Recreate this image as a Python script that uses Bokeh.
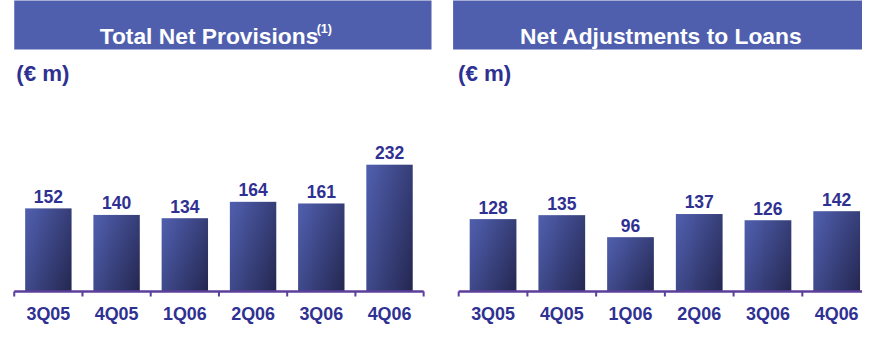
import numpy as np
from bokeh.plotting import figure
from bokeh.layouts import row
from bokeh.models import Range1d, BoxAnnotation, Label
from bokeh.core.properties import value
from bokeh.embed import file_html
from bokeh.resources import INLINE

# ---- data ----
quarters = ["3Q05", "4Q05", "1Q06", "2Q06", "3Q06", "4Q06"]
total_net_provisions = [152, 140, 134, 164, 161, 232]
net_adjustments_loans = [128, 135, 96, 137, 126, 142]
title_left = "Total Net Provisions"
title_left_note = "(1)"
title_right = "Net Adjustments to Loans"
unit_text = "(€ m)"

# ---- layout / style ----
TOTAL_W, TOTAL_H = 862, 328          # fits the 878x344 window with 8px margins
SX, SY = TOTAL_W / 878.0, 320.0 / 344.0
FS = 0.97                             # font scale
FONT = "Liberation Sans"
HEADER_COLOR = "#4f5fae"
TEXT_BLUE = "#2f3192"
AXIS_COLOR = "#5b3f9b"
TOP_LEFT = np.array([80, 95, 174], dtype=float)
BOTTOM_RIGHT = np.array([36, 39, 80], dtype=float)
BASE_PX = 312.7 * SY                  # axis baseline from top of figure


def fpx(size):
    return f"{size * FS:.1f}px"


def gradient_image(rows=160, cols=48):
    fy = np.linspace(1.0, 0.0, rows)[:, None]   # row 0 is bottom
    fx = np.linspace(0.0, 1.0, cols)[None, :]
    t = np.clip(0.6 * fx + 0.4 * fy, 0, 1) ** 1.1
    img = np.empty((rows, cols), dtype=np.uint32)
    view = img.view(dtype=np.uint8).reshape((rows, cols, 4))
    for k in range(3):
        view[:, :, k] = (TOP_LEFT[k] + (BOTTOM_RIGHT[k] - TOP_LEFT[k]) * t).astype(np.uint8)
    view[:, :, 3] = 255
    return img


GRAD = gradient_image()


def panel(width, x0_px, cat_w, ppu, values, title, note, header_l, header_r,
          title_x, title_align, note_x, unit_x):
    # all px arguments are in the panel's local pixel space (already scaled)
    def dx(px):
        return (px - x0_px) / cat_w

    def dy(py):
        return (BASE_PX - py) / ppu

    p = figure(width=width, height=TOTAL_H, output_backend="svg", toolbar_location=None,
               x_axis_type=None, y_axis_type=None,
               x_range=Range1d(dx(0), dx(width)), y_range=Range1d(dy(TOTAL_H), dy(0)),
               min_border=0, outline_line_color=None, background_fill_color="white",
               border_fill_color="white")
    p.grid.visible = False

    n = len(values)
    centers = [i + 0.5 for i in range(n)]
    bw = 0.68
    p.image_rgba(image=[GRAD] * n, x=[c - bw / 2 for c in centers], y=[0] * n,
                 dw=[bw] * n, dh=values)

    # axis line and boundary ticks
    p.segment(x0=[0], y0=[0], x1=[n], y1=[0], line_color=AXIS_COLOR, line_width=2.5)
    bounds = list(range(n + 1))
    p.segment(x0=bounds, y0=[0] * (n + 1), x1=bounds, y1=[-5.5 * SY / ppu] * (n + 1),
              line_color=AXIS_COLOR, line_width=2)

    # value labels
    p.text(x=centers, y=values, text=[str(v) for v in values], text_align="center",
           text_baseline="alphabetic", y_offset=-13 * SY,
           text_font=value(FONT), text_font_style="bold", text_font_size=fpx(18),
           text_color=TEXT_BLUE)
    # category labels
    p.text(x=centers, y=[0] * n, text=quarters, text_align="center",
           text_baseline="alphabetic", y_offset=23.0,
           text_font=value(FONT), text_font_style="bold", text_font_size=fpx(18.5),
           text_color=TEXT_BLUE)

    # header band
    p.add_layout(BoxAnnotation(left=dx(header_l), right=dx(header_r), top=dy(-2),
                               bottom=dy(52.7 * SY),
                               fill_color=HEADER_COLOR, fill_alpha=1.0, line_color=None))
    p.add_layout(Label(x=dx(title_x), y=dy(38.3 * SY), text=title, text_align=title_align,
                       text_baseline="alphabetic", text_font=FONT, text_font_style="bold",
                       text_font_size=fpx(23.5), text_color="white"))
    if note:
        p.add_layout(Label(x=dx(note_x), y=dy(30.6 * SY), text=note, text_align="left",
                           text_baseline="alphabetic", text_font=FONT, text_font_style="bold",
                           text_font_size=fpx(13), text_color="white"))
    p.add_layout(Label(x=dx(unit_x), y=dy(78.5 * SY), text=unit_text, text_align="left",
                       text_baseline="alphabetic", text_font=FONT, text_font_style="bold",
                       text_font_size=fpx(23), text_color=TEXT_BLUE))
    return p


LEFT_W = round(450 * SX)
RIGHT_W = TOTAL_W - LEFT_W
RIGHT_ORIGIN = LEFT_W / SX   # reference x where the right panel starts

left = panel(LEFT_W, 14.0 * SX, 69.5 * SX, 0.587 * SY, total_net_provisions,
             title_left, title_left_note,
             14.0 * SX, 439.0 * SX, 101.0 * SX, "left", 322.0 * SX, 16.0 * SX)
right = panel(RIGHT_W, (466.7 - RIGHT_ORIGIN) * SX, 70.0 * SX, 0.607 * SY,
              net_adjustments_loans, title_right, None,
              (461.0 - RIGHT_ORIGIN) * SX, (890.0 - RIGHT_ORIGIN) * SX,
              (673.0 - RIGHT_ORIGIN) * SX, "center", 0, (466.0 - RIGHT_ORIGIN) * SX)

layout = row(left, right, spacing=0)
open("out.html", "w").write(file_html(layout, INLINE))
